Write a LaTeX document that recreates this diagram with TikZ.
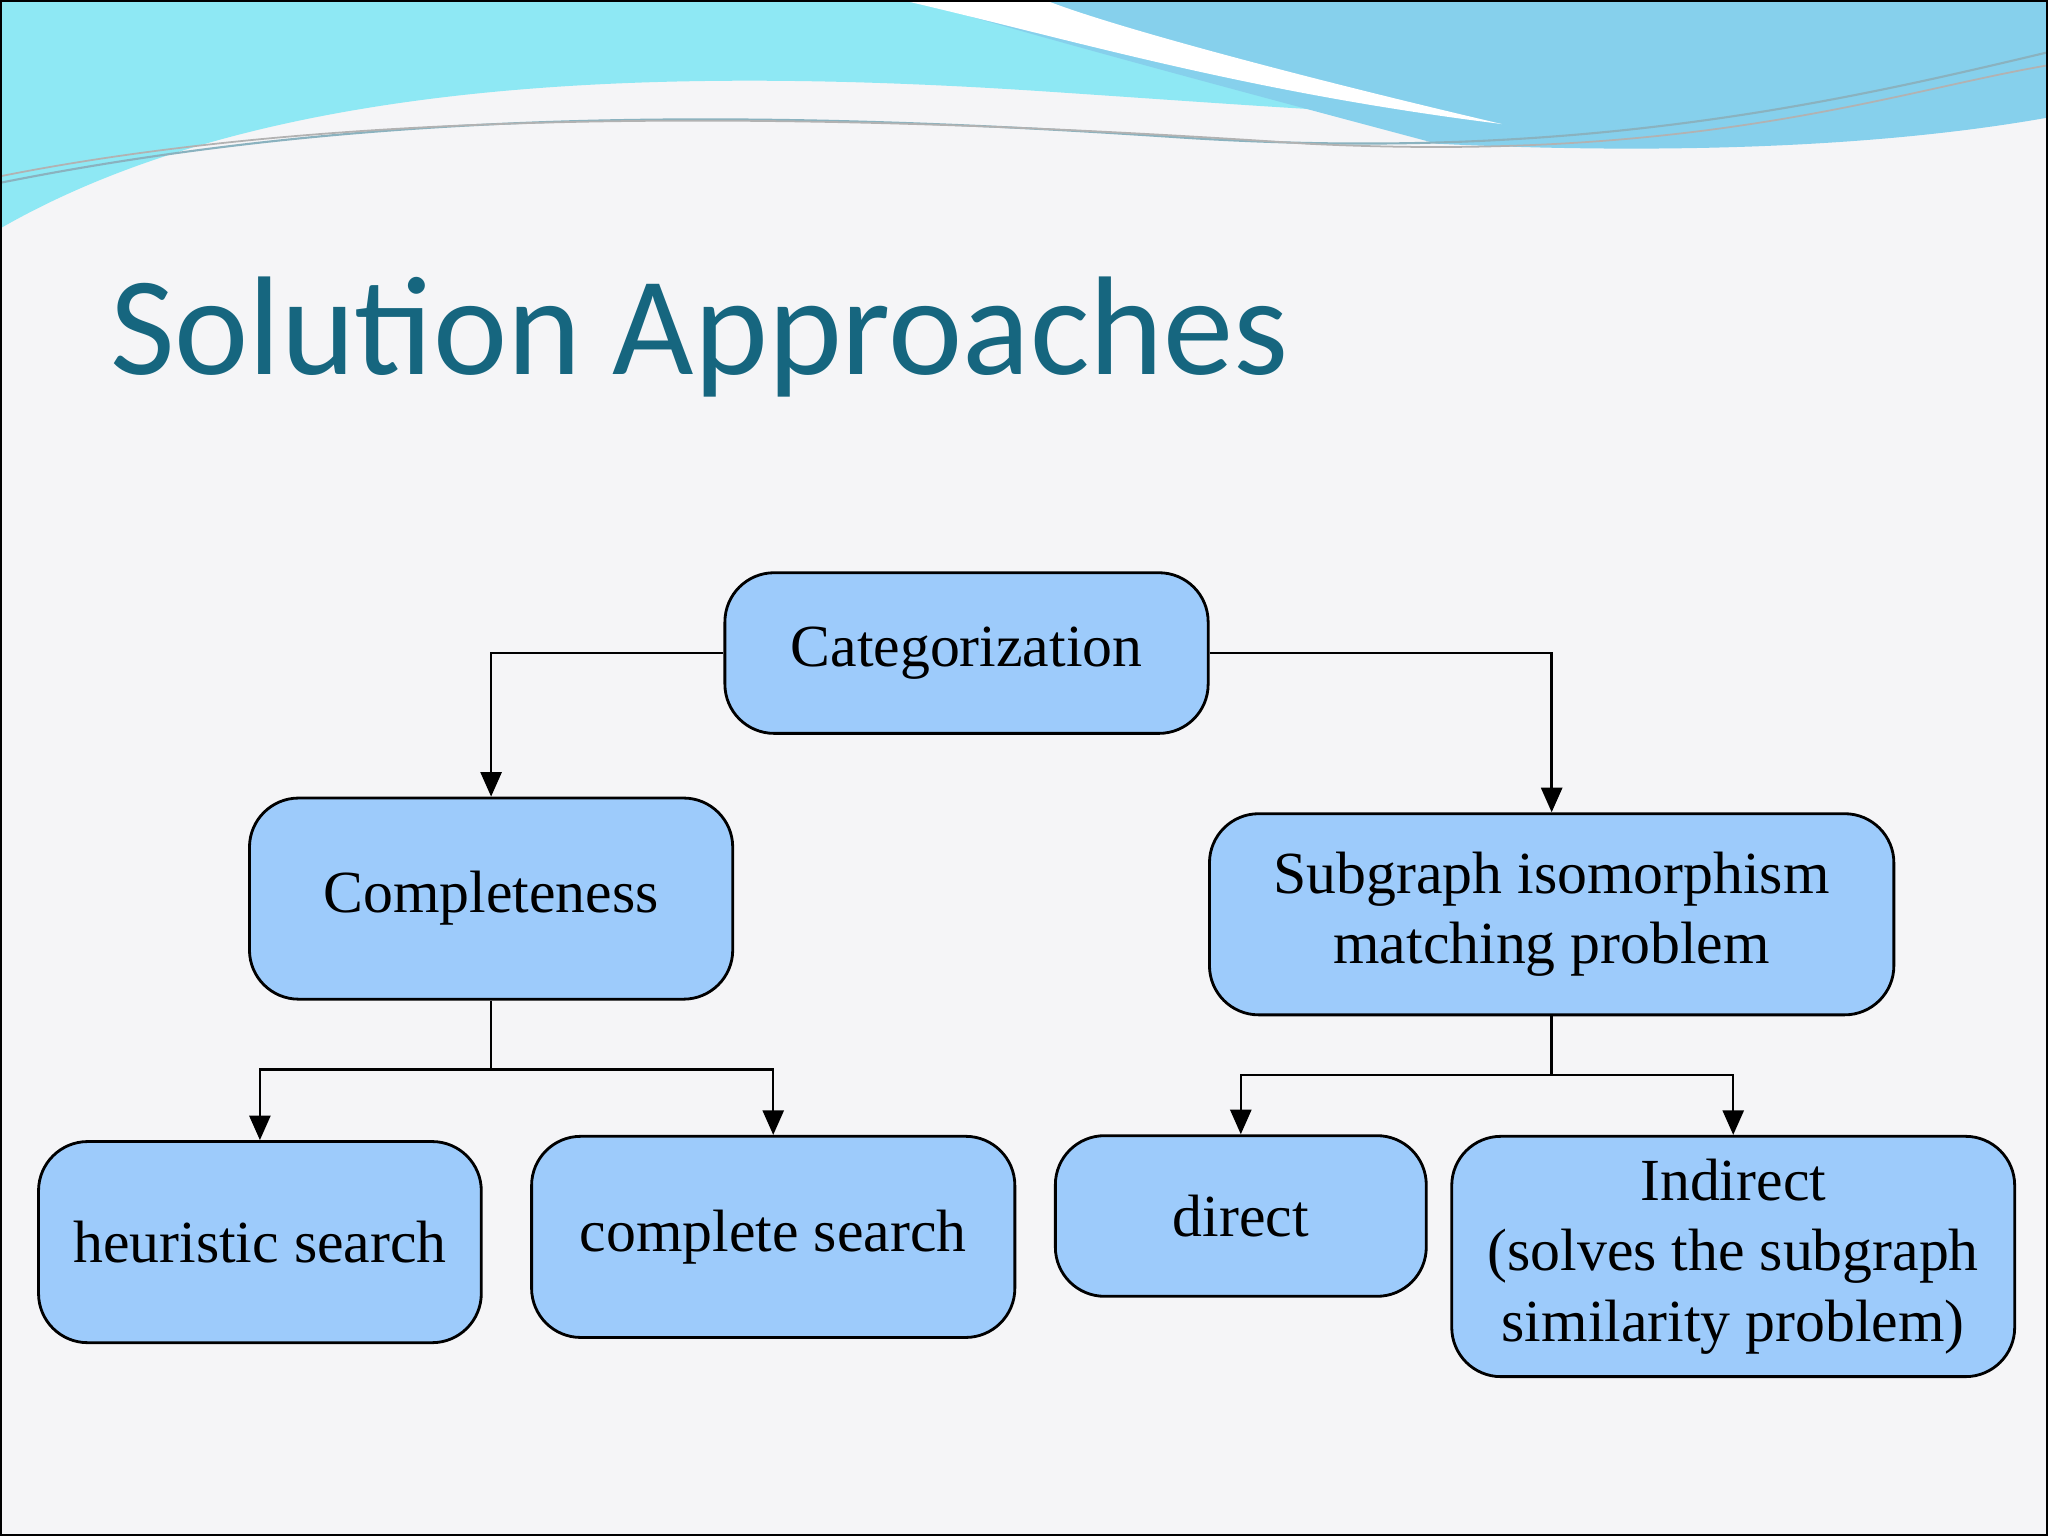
\documentclass[tikz,border=0pt]{standalone}
\usepackage{fontspec}
\setmainfont{Liberation Serif}
\newfontfamily\titlefont{Carlito}
\usetikzlibrary{arrows.meta}
\definecolor{boxblue}{HTML}{9DCBFB}
\definecolor{titleblue}{HTML}{16667F}
\definecolor{bg}{HTML}{F5F5F7}
\definecolor{waveA}{HTML}{8EE8F4}
\definecolor{waveB}{HTML}{86D0EC}
\tikzset{box/.style={draw=black,fill=boxblue,rounded corners=14pt,line width=0.8pt,align=center,font=\fontsize{17}{20}\selectfont,inner sep=0pt},
link/.style={draw=black,line width=0.7pt},
arr/.style={link,-{Triangle[length=7pt,width=6pt]}}}
\begin{document}
\begin{tikzpicture}[x=0.013061cm,y=-0.013061cm]
\useasboundingbox (0,0) rectangle (1568,1176);
\fill[bg] (0,0) rectangle (1568,1176);
% waves
\fill[waveA] (0,0) -- (1568,0) -- (1568,60) .. controls (1300,110) and (1100,90) .. (800,70) .. controls (500,50) and (200,60) .. (0,175) -- cycle;
\fill[waveB] (700,0) -- (1568,0) -- (1568,90) .. controls (1400,120) and (1200,115) .. (1100,110) .. controls (950,70) and (800,30) .. (700,0) -- cycle;
\fill[white] (690,0) .. controls (820,30) and (950,70) .. (1150,95) .. controls (1000,60) and (850,20) .. (800,0) -- cycle;
\draw[titleblue!50,line width=0.6pt] (0,140) .. controls (300,80) and (600,85) .. (900,105) .. controls (1200,125) and (1400,80) .. (1568,40);
\draw[gray!60,line width=0.5pt] (0,135) .. controls (300,75) and (700,90) .. (1000,110) .. controls (1300,125) and (1450,70) .. (1568,50);
\draw[black,line width=0.8pt] (0.5,0.5) rectangle (1567.5,1175.5);
\node[anchor=base west,text=titleblue,font=\titlefont\fontsize{40}{48}\selectfont] (title) at (75,287) {Solution Approaches};
\node[box,minimum width=370*0.013061cm,minimum height=123*0.013061cm] (cat) at (740,500) {Categorization};
\node[box,minimum width=370*0.013061cm,minimum height=154*0.013061cm] (comp) at (376,688) {Completeness};
\node[box,minimum width=524*0.013061cm,minimum height=154*0.013061cm] (sub) at (1188,700) {Subgraph isomorphism\\matching problem};
\node[box,minimum width=339*0.013061cm,minimum height=154*0.013061cm] (heu) at (199,951) {heuristic search};
\node[box,minimum width=370*0.013061cm,minimum height=154*0.013061cm] (cs) at (592,947) {complete search};
\node[box,minimum width=284*0.013061cm,minimum height=123*0.013061cm] (dir) at (950,931) {direct};
\node[box,minimum width=431*0.013061cm,minimum height=184*0.013061cm] (ind) at (1327,962) {Indirect\\(solves the subgraph\\similarity problem)};
\coordinate (j1) at (376,819);
\coordinate (j2) at (1188,823);
\draw[arr] (cat.west) -| (comp.north);
\draw[arr] (cat.east) -| (sub.north);
\draw[link] (comp.south) -- (j1);
\draw[arr] (j1) -| (heu.north);
\draw[arr] (j1) -| (cs.north);
\draw[link] (sub.south) -- (j2);
\draw[arr] (j2) -| (dir.north);
\draw[arr] (j2) -| (ind.north);
\end{tikzpicture}
\end{document}
